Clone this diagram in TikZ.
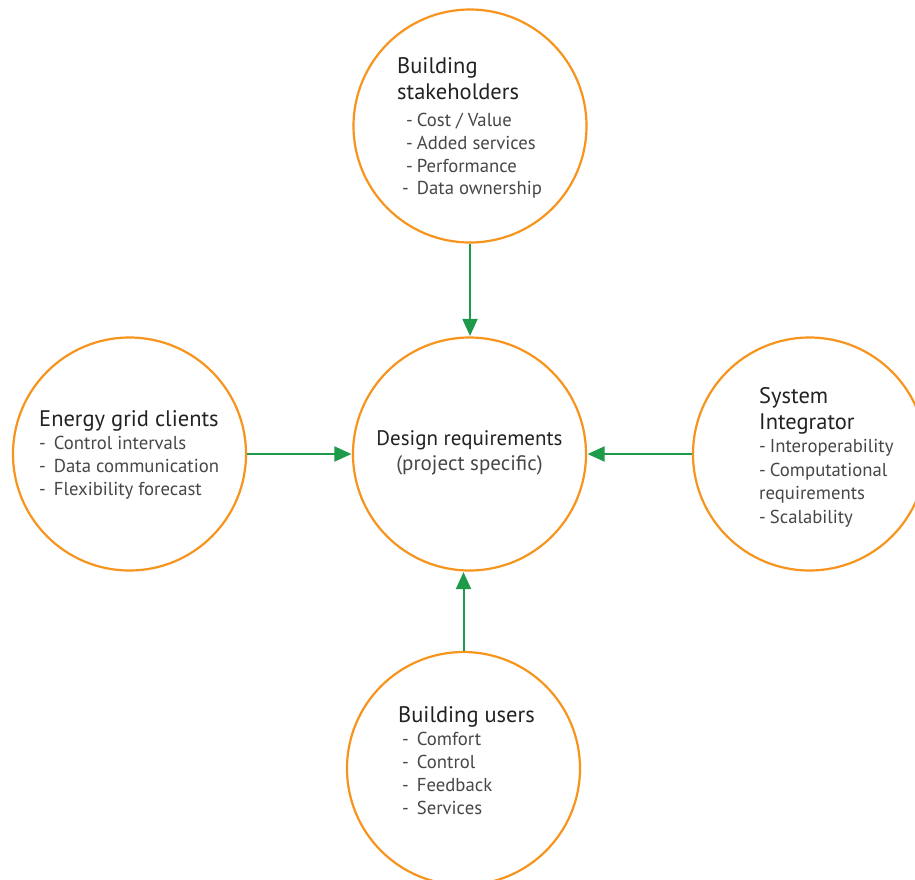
\documentclass[tikz,border=0pt]{standalone}
\usepackage{fontspec}
\setmainfont{PT Sans}
\usetikzlibrary{arrows.meta}
\definecolor{ring}{HTML}{F7941D}
\definecolor{arrowgreen}{HTML}{1E9A4B}
\definecolor{titlegray}{HTML}{222222}
\definecolor{itemgray}{HTML}{474747}
\tikzset{
  ring/.style={circle, draw=ring, line width=2.2pt, minimum size=233pt, inner sep=0pt, fill=white},
  flow/.style={draw=arrowgreen, line width=2pt, -{Triangle[length=17pt, width=15pt]}, shorten >=0.5pt},
  ttl/.style={anchor=base west, inner sep=0pt, text=titlegray, font=\fontsize{22.5}{25}\selectfont},
  itm/.style={anchor=base west, inner sep=0pt, text=itemgray, font=\fontsize{18.7}{21}\selectfont},
  ctitle/.style={anchor=base, inner sep=0pt, text=titlegray, font=\fontsize{21}{24}\selectfont},
  csub/.style={anchor=base, inner sep=0pt, text=itemgray, font=\fontsize{21}{24}\selectfont},
}
\begin{document}
\begin{tikzpicture}[x=1pt, y=-1pt]
\useasboundingbox (0,0) rectangle (915,879);
\clip (0,0) rectangle (915,879);
\fill[white] (0,0) rectangle (915,879);
% circles
\node[ring] (top) at (470,126) {};
\node[ring] (ctr) at (469.5,454) {};
\node[ring] (lft) at (129.5,454) {};
\node[ring] (rgt) at (809.5,454) {};
\node[ring] (bot) at (463.5,768.5) {};
% connectors
\draw[flow] (top.south) -- (top.south |- ctr.north);
\draw[flow] (lft.east) -- (ctr.west);
\draw[flow] (rgt.west) -- (ctr.east);
\draw[flow] (bot.north) -- (bot.north |- ctr.south);
% top text
\node[ttl] (t1) at (397,73) {Building};
\node[ttl] (t2) at (397,99) {stakeholders};
\node[itm] (t3) at (406,126) {-\hspace{4pt}Cost / Value};
\node[itm] (t4) at (406,149) {-\hspace{4pt}Added services};
\node[itm] (t5) at (406,172) {-\hspace{4pt}Performance};
\node[itm] (t6) at (402,194.5) {-\hspace{8pt}Data ownership};
% left text
\node[ttl] (l1) at (39,426) {Energy grid clients};
\node[itm] (l2) at (39,449) {-\hspace{8pt}Control intervals};
\node[itm] (l3) at (39,472.5) {-\hspace{8pt}Data communication};
\node[itm] (l4) at (39,495.5) {-\hspace{8pt}Flexibility forecast};
% right text
\node[ttl] (r1) at (759,403) {System};
\node[ttl] (r2) at (759,429.5) {Integrator};
\node[itm] (r3) at (759,452.5) {-\hspace{4pt}Interoperability};
\node[itm] (r4) at (759,476.5) {-\hspace{4pt}Computational};
\node[itm] (r5) at (759,499.5) {requirements};
\node[itm] (r6) at (759,523) {-\hspace{4pt}Scalability};
% bottom text
\node[ttl] (b1) at (398,722) {Building users};
\node[itm] (b2) at (402,745.5) {-\hspace{8pt}Comfort};
\node[itm] (b3) at (402,768.5) {-\hspace{8pt}Control};
\node[itm] (b4) at (402,791.5) {-\hspace{8pt}Feedback};
\node[itm] (b5) at (402,814.5) {-\hspace{8pt}Services};
% center text
\node[ctitle] (c1) at (469.5,445) {Design requirements};
\node[csub] (c2) at (469.5,470) {(project specific)};
\end{tikzpicture}
\end{document}
